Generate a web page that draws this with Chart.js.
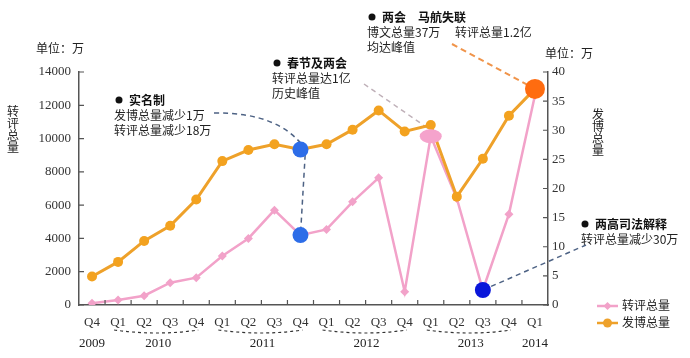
<!DOCTYPE html>
<html>
<head>
<meta charset="utf-8">
<script src="https://cdn.jsdelivr.net/npm/chart.js@4.4.1/dist/chart.umd.min.js"></script>
<style>
html, body { margin: 0; padding: 0; background: #fff; }
#wrap { width: 690px; height: 358px; }
</style>
</head>
<body>
<div id="wrap"><canvas id="chart" width="690" height="358"></canvas></div>
<script>
// quarters from 2009 Q4 to 2014 Q1
const quarters = ['Q4', 'Q1', 'Q2', 'Q3', 'Q4', 'Q1', 'Q2', 'Q3', 'Q4', 'Q1', 'Q2', 'Q3', 'Q4', 'Q1', 'Q2', 'Q3', 'Q4', 'Q1'];
const years = ['2009', '2010', '2011', '2012', '2013', '2014'];

// 转评总量 (万), left axis
const zhuanping = [100, 300, 560, 1340, 1640, 2940, 4000, 5700, 4200, 4540, 6200, 7640, 800, 10140, 6400, 900, 5460, 12600];
// 发博总量 (万), right axis
const fabo = [4.9, 7.4, 11.0, 13.6, 18.1, 24.7, 26.6, 27.6, 26.7, 27.6, 30.1, 33.4, 29.8, 30.9, 18.6, 25.1, 32.5, 37.1];

const leftTicks = [0, 2000, 4000, 6000, 8000, 10000, 12000, 14000];
const rightTicks = [0, 5, 10, 15, 20, 25, 30, 35, 40];

const PINK = '#f2a2c9';
const ORANGE = '#eea12a';
const CJK = '"Noto Sans CJK SC", "Noto Sans", sans-serif';
const NUM = '"Liberation Serif", "DejaVu Serif", serif';

// big coloured markers on some points
const highlights = [
    { ds: 0, i: 8, color: '#2d6de8', rx: 8, ry: 8 },
    { ds: 0, i: 13, color: '#f5a3cc', rx: 11, ry: 7 },
    { ds: 0, i: 15, color: '#0a16da', rx: 8, ry: 8 },
    { ds: 1, i: 8, color: '#2d6de8', rx: 8, ry: 8 },
    { ds: 1, i: 17, color: '#ff6c10', rx: 10, ry: 10 }
];

// year spans, derived from the quarter labels
function yearSpans() {
    const spans = [];
    let cur = null;
    quarters.forEach((q, i) => {
        if (cur === null || q === 'Q1') {
            cur = { start: i, end: i };
            spans.push(cur);
        } else {
            cur.end = i;
        }
    });
    return spans;
}

function pt(chart, ds, i) {
    const el = chart.getDatasetMeta(ds).data[i];
    return { x: el.x, y: el.y };
}

function dashed(ctx, color, width, dash, fn) {
    ctx.save();
    ctx.strokeStyle = color;
    ctx.lineWidth = width;
    ctx.setLineDash(dash);
    ctx.beginPath();
    fn();
    ctx.stroke();
    ctx.restore();
}

function note(ctx, x, y, title, lines, lx) {
    ctx.save();
    ctx.fillStyle = '#111';
    ctx.beginPath();
    ctx.arc(x, y, 3.5, 0, Math.PI * 2);
    ctx.fill();
    ctx.textBaseline = 'middle';
    ctx.font = 'bold 12px ' + CJK;
    ctx.fillText(title, x + 10, y);
    ctx.font = '12px ' + CJK;
    ctx.fillStyle = '#222';
    lines.forEach((t, k) => ctx.fillText(t, lx, y + 15 * (k + 1)));
    ctx.restore();
}

const decor = {
    id: 'decor',
    beforeDatasetsDraw(chart) {
        const ctx = chart.ctx;
        const o8 = pt(chart, 1, 8), p8 = pt(chart, 0, 8);
        const p13 = pt(chart, 0, 13), p15 = pt(chart, 0, 15), o17 = pt(chart, 1, 17);

        // 实名制 leader
        dashed(ctx, '#4d6284', 1.5, [5, 4], () => {
            ctx.moveTo(214, 113);
            ctx.quadraticCurveTo(280, 112, o8.x + 5, o8.y);
            ctx.lineTo(p8.x, p8.y);
        });
        // 春节及两会 leader
        dashed(ctx, '#bfb0b8', 1.5, [5, 4], () => {
            ctx.moveTo(364, 84);
            ctx.lineTo(p13.x, p13.y - 6);
        });
        // 两会 马航失联 leader
        dashed(ctx, '#f0944a', 2, [6, 4], () => {
            ctx.moveTo(452, 44);
            ctx.lineTo(o17.x, o17.y);
        });
        // 两高司法解释 leader
        dashed(ctx, '#4d6284', 1.5, [5, 4], () => {
            ctx.moveTo(p15.x, p15.y);
            ctx.lineTo(586, 245);
        });
    },
    afterDatasetsDraw(chart) {
        const ctx = chart.ctx;
        highlights.forEach(h => {
            const p = pt(chart, h.ds, h.i);
            ctx.save();
            ctx.fillStyle = h.color;
            ctx.beginPath();
            ctx.ellipse(p.x, p.y, h.rx, h.ry, 0, 0, Math.PI * 2);
            ctx.fill();
            ctx.restore();
        });
    },
    afterDraw(chart) {
        const ctx = chart.ctx;
        const area = chart.chartArea;
        const xs = chart.scales.x, yl = chart.scales.yL, yr = chart.scales.yR;

        // inward tick marks
        ctx.save();
        ctx.strokeStyle = '#555';
        ctx.lineWidth = 1.2;
        ctx.beginPath();
        yl.ticks.forEach(t => {
            const y = yl.getPixelForValue(t.value);
            ctx.moveTo(area.left, y);
            ctx.lineTo(area.left + 5, y);
        });
        yr.ticks.forEach(t => {
            const y = yr.getPixelForValue(t.value);
            ctx.moveTo(area.right, y);
            ctx.lineTo(area.right - 5, y);
        });
        const step = (area.right - area.left) / quarters.length;
        for (let k = 1; k < quarters.length; k++) {
            const x = area.left + step * k;
            ctx.moveTo(x, area.bottom);
            ctx.lineTo(x, area.bottom - 5);
        }
        ctx.stroke();
        ctx.restore();

        // years and dashed brackets
        ctx.save();
        ctx.fillStyle = '#222';
        ctx.font = '13px ' + NUM;
        ctx.textAlign = 'center';
        ctx.textBaseline = 'middle';
        yearSpans().forEach((s, k) => {
            const x0 = xs.getPixelForValue(s.start);
            const x1 = xs.getPixelForValue(s.end);
            ctx.fillText(years[k], (x0 + x1) / 2 + (s.end > s.start ? 1 : 0), 344);
            if (s.end - s.start === 3) {
                ctx.save();
                ctx.strokeStyle = '#333';
                ctx.lineWidth = 1.2;
                ctx.setLineDash([3, 3]);
                ctx.beginPath();
                ctx.moveTo(x0 - 4, 330);
                ctx.quadraticCurveTo((x0 + x1) / 2, 336, x1 + 2, 330);
                ctx.stroke();
                ctx.restore();
            }
        });
        ctx.restore();

        // units and axis titles
        ctx.save();
        ctx.fillStyle = '#222';
        ctx.font = '12px ' + CJK;
        ctx.textBaseline = 'middle';
        ctx.fillText('单位：万', 36, 48);
        ctx.fillText('单位：万', 545, 53);
        ctx.textAlign = 'center';
        '转评总量'.split('').forEach((c, k) => ctx.fillText(c, 13, 111 + 12 * k));
        '发博总量'.split('').forEach((c, k) => ctx.fillText(c, 598, 114 + 12 * k));
        ctx.restore();

        // notes
        note(ctx, 119, 100, '实名制', ['发博总量减少1万', '转评总量减少18万'], 114);
        note(ctx, 277, 63, '春节及两会', ['转评总量达1亿', '历史峰值'], 272);
        note(ctx, 372, 17, '两会　马航失联', ['博文总量37万　 转评总量1.2亿', '均达峰值'], 367);
        note(ctx, 585, 224, '两高司法解释', ['转评总量减少30万'], 581);

        // legend
        ctx.save();
        ctx.lineWidth = 2.5;
        ctx.strokeStyle = PINK;
        ctx.beginPath();
        ctx.moveTo(597, 306);
        ctx.lineTo(618, 306);
        ctx.stroke();
        ctx.fillStyle = PINK;
        ctx.beginPath();
        ctx.moveTo(607.5, 302);
        ctx.lineTo(611.5, 306);
        ctx.lineTo(607.5, 310);
        ctx.lineTo(603.5, 306);
        ctx.closePath();
        ctx.fill();
        ctx.strokeStyle = ORANGE;
        ctx.beginPath();
        ctx.moveTo(597, 323);
        ctx.lineTo(618, 323);
        ctx.stroke();
        ctx.fillStyle = ORANGE;
        ctx.beginPath();
        ctx.arc(607.5, 323, 4.5, 0, Math.PI * 2);
        ctx.fill();
        ctx.fillStyle = '#222';
        ctx.font = '12px ' + CJK;
        ctx.textBaseline = 'middle';
        ctx.fillText(chart.data.datasets[0].label, 622, 305);
        ctx.fillText(chart.data.datasets[1].label, 622, 322);
        ctx.restore();
    }
};

const ctx = document.getElementById('chart').getContext('2d');
new Chart(ctx, {
    type: 'line',
    data: {
        labels: quarters,
        datasets: [{
            label: '转评总量',
            data: zhuanping,
            yAxisID: 'yL',
            borderColor: PINK,
            backgroundColor: PINK,
            borderWidth: 2.5,
            pointStyle: 'rectRot',
            pointRadius: 4.5,
            pointBorderWidth: 0,
            tension: 0,
            order: 2
        }, {
            label: '发博总量',
            data: fabo,
            yAxisID: 'yR',
            borderColor: ORANGE,
            backgroundColor: '#f3a21f',
            borderWidth: 3,
            pointRadius: 5,
            pointBorderWidth: 0,
            tension: 0,
            order: 1
        }]
    },
    options: {
        responsive: false,
        animation: false,
        devicePixelRatio: 1,
        layout: { padding: { top: 72, left: 0, right: 0, bottom: 0 } },
        plugins: {
            legend: { display: false },
            tooltip: { enabled: false }
        },
        scales: {
            x: {
                offset: true,
                grid: { display: false, drawTicks: false, offset: true },
                border: { color: '#555', width: 1.5 },
                ticks: {
                    color: '#333',
                    font: { family: NUM, size: 13 },
                    padding: 10,
                    maxRotation: 0,
                    autoSkip: false
                },
                afterFit: s => { s.height = 53; }
            },
            yL: {
                position: 'left',
                min: leftTicks[0],
                max: leftTicks[leftTicks.length - 1],
                grid: { display: false, drawTicks: false },
                border: { color: '#555', width: 1.5 },
                afterBuildTicks: s => { s.ticks = leftTicks.map(v => ({ value: v })); },
                ticks: {
                    color: '#333',
                    font: { family: NUM, size: 13 },
                    padding: 8,
                    callback: v => String(v)
                },
                afterFit: s => { s.width = 79; }
            },
            yR: {
                position: 'right',
                min: rightTicks[0],
                max: rightTicks[rightTicks.length - 1],
                grid: { display: false, drawTicks: false },
                border: { color: '#555', width: 1.5 },
                afterBuildTicks: s => { s.ticks = rightTicks.map(v => ({ value: v })); },
                ticks: {
                    color: '#333',
                    font: { family: NUM, size: 13 },
                    padding: 4,
                    callback: v => String(v)
                },
                afterFit: s => { s.width = 142; }
            }
        }
    },
    plugins: [decor]
});
</script>
</body>
</html>
